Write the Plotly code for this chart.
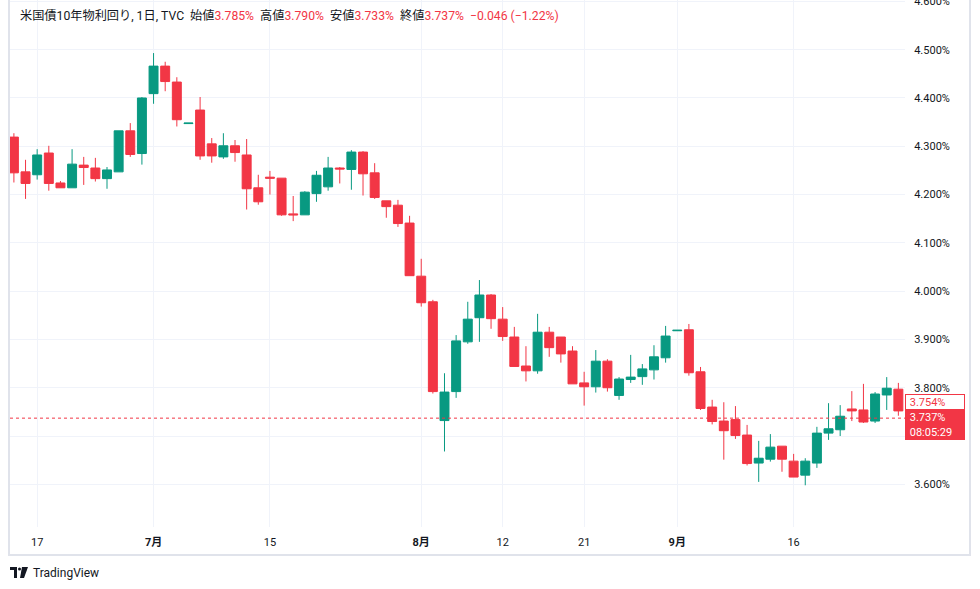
import plotly.graph_objects as go

# ---------------- data ----------------
dates = [
    "2024-06-13", "2024-06-14", "2024-06-17", "2024-06-18", "2024-06-19", "2024-06-20", "2024-06-21",
    "2024-06-24", "2024-06-25", "2024-06-26", "2024-06-27", "2024-06-28",
    "2024-07-01", "2024-07-02", "2024-07-03", "2024-07-04", "2024-07-05",
    "2024-07-08", "2024-07-09", "2024-07-10", "2024-07-11", "2024-07-12",
    "2024-07-15", "2024-07-16", "2024-07-17", "2024-07-18", "2024-07-19",
    "2024-07-22", "2024-07-23", "2024-07-24", "2024-07-25", "2024-07-26",
    "2024-07-29", "2024-07-30", "2024-07-31", "2024-08-01", "2024-08-02",
    "2024-08-05", "2024-08-06", "2024-08-07", "2024-08-08", "2024-08-09",
    "2024-08-12", "2024-08-13", "2024-08-14", "2024-08-15", "2024-08-16",
    "2024-08-19", "2024-08-20", "2024-08-21", "2024-08-22", "2024-08-23",
    "2024-08-26", "2024-08-27", "2024-08-28", "2024-08-29", "2024-08-30",
    "2024-09-02", "2024-09-03", "2024-09-04", "2024-09-05", "2024-09-06",
    "2024-09-09", "2024-09-10", "2024-09-11", "2024-09-12", "2024-09-13",
    "2024-09-16", "2024-09-17", "2024-09-18", "2024-09-19", "2024-09-20",
    "2024-09-23", "2024-09-24", "2024-09-25", "2024-09-26", "2024-09-27",
]

open_ = [
    4.319, 4.247, 4.241, 4.286, 4.224, 4.214, 4.261, 4.255, 4.233, 4.247, 4.332, 4.285,
    4.409, 4.466, 4.433, 4.347, 4.375, 4.305, 4.278, 4.301, 4.282, 4.214,
    4.236, 4.234, 4.160, 4.158, 4.202, 4.216, 4.255, 4.252, 4.288, 4.245,
    4.187, 4.178, 4.141, 4.031, 3.978, 3.732, 3.792, 3.895, 3.945, 3.992,
    3.942, 3.905, 3.845, 3.835, 3.915, 3.905, 3.876, 3.810, 3.802, 3.855,
    3.784, 3.817, 3.823, 3.837, 3.862, 3.918, 3.920, 3.833, 3.760, 3.731,
    3.734, 3.702, 3.644, 3.652, 3.679, 3.648, 3.619, 3.644, 3.706, 3.713,
    3.756, 3.754, 3.731, 3.785, 3.797,
]
high = [
    4.327, 4.272, 4.294, 4.301, 4.228, 4.294, 4.278, 4.276, 4.257, 4.332, 4.348, 4.402,
    4.493, 4.475, 4.443, 4.348, 4.402, 4.317, 4.327, 4.313, 4.315, 4.241,
    4.249, 4.234, 4.197, 4.207, 4.249, 4.278, 4.257, 4.292, 4.290, 4.265,
    4.187, 4.189, 4.156, 4.067, 3.982, 3.830, 3.909, 3.978, 4.023, 3.994,
    3.967, 3.926, 3.886, 3.953, 3.926, 3.905, 3.886, 3.833, 3.878, 3.859,
    3.822, 3.868, 3.849, 3.888, 3.928, 3.919, 3.932, 3.843, 3.775, 3.770,
    3.762, 3.723, 3.690, 3.704, 3.679, 3.663, 3.654, 3.719, 3.768, 3.764,
    3.793, 3.808, 3.791, 3.822, 3.810,
]
low = [
    4.225, 4.191, 4.231, 4.208, 4.214, 4.214, 4.220, 4.227, 4.212, 4.247, 4.278, 4.262,
    4.388, 4.414, 4.341, 4.347, 4.272, 4.266, 4.274, 4.268, 4.169, 4.179,
    4.200, 4.156, 4.145, 4.158, 4.185, 4.208, 4.223, 4.210, 4.198, 4.191,
    4.152, 4.133, 4.032, 3.968, 3.788, 3.668, 3.779, 3.891, 3.895, 3.922,
    3.897, 3.844, 3.813, 3.829, 3.864, 3.852, 3.808, 3.763, 3.790, 3.792,
    3.775, 3.810, 3.806, 3.817, 3.852, 3.918, 3.825, 3.754, 3.724, 3.651,
    3.694, 3.639, 3.605, 3.647, 3.626, 3.615, 3.598, 3.634, 3.692, 3.700,
    3.731, 3.727, 3.727, 3.754, 3.742,
]
close = [
    4.245, 4.223, 4.282, 4.223, 4.214, 4.263, 4.256, 4.233, 4.251, 4.332, 4.283, 4.400,
    4.466, 4.434, 4.355, 4.348, 4.280, 4.280, 4.301, 4.287, 4.212, 4.185,
    4.234, 4.158, 4.158, 4.205, 4.240, 4.255, 4.253, 4.288, 4.243, 4.194,
    4.175, 4.140, 4.032, 3.976, 3.792, 3.791, 3.897, 3.942, 3.992, 3.943,
    3.906, 3.844, 3.835, 3.915, 3.883, 3.870, 3.808, 3.802, 3.855, 3.800,
    3.818, 3.822, 3.839, 3.864, 3.907, 3.919, 3.831, 3.757, 3.730, 3.711,
    3.701, 3.643, 3.654, 3.677, 3.652, 3.615, 3.648, 3.706, 3.715, 3.741,
    3.752, 3.729, 3.787, 3.799, 3.752,
]

tick_dates = ["2024-06-17", "2024-07-01", "2024-07-15", "2024-08-01",
              "2024-08-12", "2024-08-21", "2024-09-02", "2024-09-16"]
tick_labels = ["17", "<b>7月</b>", "15", "<b>8月</b>", "12", "21", "<b>9月</b>", "16"]

# price scale ticks (3.700% is hidden behind the last-price label in the original)
y_tick_vals = [3.6, 3.7, 3.8, 3.9, 4.0, 4.1, 4.2, 4.3, 4.4, 4.5, 4.6]
y_tick_text = ["3.600%", "", "3.800%", "3.900%", "4.000%", "4.100%",
               "4.200%", "4.300%", "4.400%", "4.500%", "4.600%"]

legend_names = ["始値", "高値", "安値", "終値"]
legend_values = ["3.785%", "3.790%", "3.733%", "3.737%"]
legend_change = "−0.046 (−1.22%)"
symbol_text = "米国債10年物利回り, 1日, TVC"

last_price = 3.737
last_price_text = "3.737%"
countdown_text = "08:05:29"
bar_close = 3.754
bar_close_text = "3.754%"

# ---------------- style ----------------
GREEN = "#089981"
RED = "#f23645"
TEXT = "#131722"
GRID = "#f0f3fa"
BORDER = "#e0e3eb"
FONT = "Roboto, 'Noto Sans CJK JP', sans-serif"

W, H = 980, 589
ML, MR, MT, MB = 10, 75, 0, 62
PW, PH = W - ML - MR, H - MT - MB


def px(x):
    return (x - ML) / PW


def py(y):
    return (MT + PH - y) / PH


fig = go.Figure(go.Candlestick(
    x=dates, open=open_, high=high, low=low, close=close,
    increasing=dict(line=dict(color=GREEN, width=1), fillcolor=GREEN),
    decreasing=dict(line=dict(color=RED, width=1), fillcolor=RED),
    whiskerwidth=0, hoverinfo="skip", showlegend=False,
))

legend_html = symbol_text
for n, v in zip(legend_names, legend_values):
    legend_html += f"&nbsp;&nbsp;{n}<span style='color:{RED}'>{v}</span>"
legend_html += f"&nbsp;&nbsp;<span style='color:{RED}'>{legend_change}</span>"

shapes = [
    # last price dotted line
    dict(type="line", xref="paper", yref="y", x0=0, x1=1, y0=last_price, y1=last_price,
         line=dict(color=RED, width=1, dash="dot"), layer="above"),
    # chart frame
    dict(type="line", xref="paper", yref="paper", x0=px(9), x1=px(9), y0=py(555), y1=py(-5),
         line=dict(color=BORDER, width=2)),
    dict(type="line", xref="paper", yref="paper", x0=px(970), x1=px(970), y0=py(555), y1=py(-5),
         line=dict(color=BORDER, width=2)),
    dict(type="line", xref="paper", yref="paper", x0=px(8), x1=px(971), y0=py(555), y1=py(555),
         line=dict(color=BORDER, width=2)),
    # TradingView logo mark
    dict(type="rect", xref="paper", yref="paper", x0=px(10), x1=px(17), y0=py(570), y1=py(567),
         fillcolor=TEXT, line=dict(width=0)),
    dict(type="rect", xref="paper", yref="paper", x0=px(14), x1=px(17), y0=py(578), y1=py(567),
         fillcolor=TEXT, line=dict(width=0)),
    dict(type="circle", xref="paper", yref="paper", x0=px(18), x1=px(21), y0=py(570.5), y1=py(567.5),
         fillcolor=TEXT, line=dict(width=0)),
    dict(type="path", xref="paper", yref="paper",
         path=f"M {px(22)} {py(567)} L {px(28)} {py(567)} L {px(24)} {py(578)} L {px(20)} {py(578)} Z",
         fillcolor=TEXT, line=dict(width=0)),
]

annotations = [
    dict(text=legend_html, xref="paper", yref="paper", x=0, y=1, xanchor="left", yanchor="top",
         xshift=8, yshift=-6, showarrow=False, font=dict(size=12.2, color=TEXT, family=FONT)),
    dict(text=f"&nbsp;{last_price_text}<br>&nbsp;{countdown_text}", xref="paper", yref="y",
         x=1, y=last_price, xanchor="left", yanchor="top", yshift=8,
         width=56, height=26, borderpad=2, align="left", valign="middle",
         bgcolor=RED, bordercolor=RED, borderwidth=0, showarrow=False,
         font=dict(size=11, color="white", family=FONT)),
    dict(text=f"&nbsp;{bar_close_text}", xref="paper", yref="y",
         x=1, y=bar_close, xanchor="left", yanchor="bottom",
         width=56, height=12, borderpad=1, align="left", valign="middle",
         bgcolor="white", bordercolor=RED, borderwidth=1, showarrow=False,
         font=dict(size=11, color=RED, family=FONT)),
    dict(text="TradingView", xref="paper", yref="paper", x=px(31), y=py(573),
         xanchor="left", yanchor="middle", showarrow=False,
         font=dict(size=12, color=TEXT, family=FONT)),
]

fig.update_layout(
    width=W, height=H,
    margin=dict(l=ML, r=MR, t=MT, b=MB, pad=0, autoexpand=False),
    paper_bgcolor="white", plot_bgcolor="white",
    font=dict(family=FONT, color=TEXT, size=11),
    boxgap=0.23, boxgroupgap=0,
    showlegend=False,
    shapes=shapes,
    annotations=annotations,
    xaxis=dict(
        type="category", categoryorder="array", categoryarray=dates,
        range=[-0.335, 76.57],
        tickvals=tick_dates, ticktext=tick_labels,
        showgrid=True, gridcolor=GRID, gridwidth=1,
        ticks="outside", ticklen=5, tickcolor="rgba(0,0,0,0)",
        tickfont=dict(size=11, color=TEXT, family=FONT),
        showline=False, zeroline=False, automargin=False,
        rangeslider=dict(visible=False),
        fixedrange=True,
    ),
    yaxis=dict(
        side="right", range=[3.5116, 4.6029],
        tickvals=y_tick_vals, ticktext=y_tick_text,
        ticklabeloverflow="allow", automargin=False,
        showgrid=True, gridcolor=GRID, gridwidth=1,
        ticks="outside", ticklen=6, tickcolor="rgba(0,0,0,0)",
        tickfont=dict(size=11, color=TEXT, family=FONT),
        showline=False, zeroline=False,
        fixedrange=True,
    ),
)

fig.write_html("out.html")
